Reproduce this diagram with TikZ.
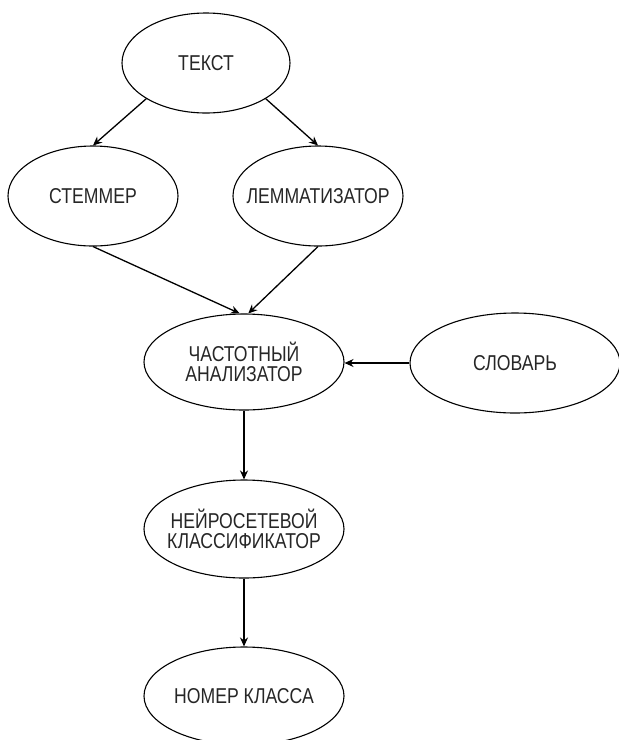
\documentclass[tikz,border=0pt]{standalone}
\usepackage{fontspec}
\setmainfont[FakeStretch=0.82]{Liberation Sans}
\usetikzlibrary{shapes.geometric,arrows.meta,calc}
\begin{document}
\begin{tikzpicture}[x=1pt,y=-1pt,
  ell/.style={draw=black, line width=1.1pt, ellipse, inner sep=0pt},
  txt/.style={text=black!85, font=\fontsize{21.5}{20.5}\selectfont, align=center, inner sep=0pt},
  arr/.style={draw=black, line width=1.3pt, -{Stealth[length=9pt,width=8pt]}}]
\useasboundingbox (0,0) rectangle (619,740);
\node[ell, minimum width=168pt, minimum height=100pt, label={[txt]center:ТЕКСТ}] (t) at (206,63) {};
\node[ell, minimum width=170pt, minimum height=100pt, label={[txt]center:СТЕММЕР}] (s) at (93,196) {};
\node[ell, minimum width=170pt, minimum height=100pt, label={[txt]center:ЛЕММАТИЗАТОР}] (l) at (318,196) {};
\node[ell, minimum width=200pt, minimum height=96pt, label={[txt]center:ЧАСТОТНЫЙ\\АНАЛИЗАТОР}] (c) at (244,362) {};
\node[ell, minimum width=210pt, minimum height=100pt, label={[txt]center:СЛОВАРЬ}] (d) at (515,363) {};
\node[ell, minimum width=200pt, minimum height=98pt, label={[txt]center:НЕЙРОСЕТЕВОЙ\\КЛАССИФИКАТОР}] (n) at (244,529) {};
\node[ell, minimum width=200pt, minimum height=98pt, label={[txt]center:НОМЕР КЛАССА}] (m) at (244,696) {};
\draw[arr] (t.south west) -- (s.north);
\draw[arr] (t.south east) -- (l.north);
\draw[arr] (s.south) -- (c.95);
\draw[arr] (l.south) -- (c.85);
\draw[arr] (d.west) -- (d.west -| c.east);
\draw[arr] (c.south) -- (n.north);
\draw[arr] (n.south) -- (m.north);
\end{tikzpicture}
\end{document}
